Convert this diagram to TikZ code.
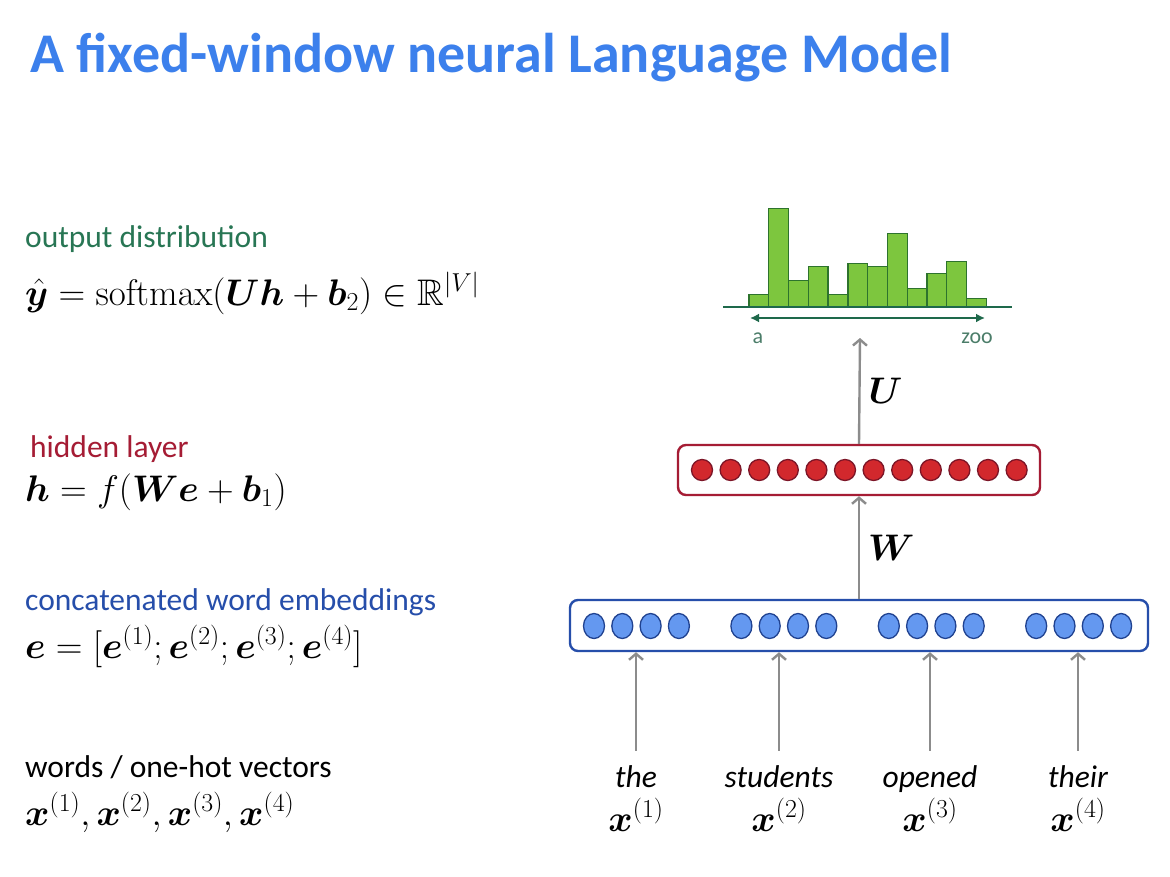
\RequirePackage{fix-cm}
\documentclass[tikz,border=0pt]{standalone}
\usepackage{amsmath,amssymb,bm}
\usepackage[no-math]{fontspec}
\setmainfont{Carlito}
\usetikzlibrary{arrows.meta}

\definecolor{titleblue}{RGB}{60,128,236}
\definecolor{outgreen}{RGB}{40,118,84}
\definecolor{hidred}{RGB}{165,28,52}
\definecolor{embblue}{RGB}{38,78,170}
\definecolor{barfill}{RGB}{125,198,62}
\definecolor{bardraw}{RGB}{45,115,45}
\definecolor{axgreen}{RGB}{30,105,75}
\definecolor{tickgreen}{RGB}{75,125,105}
\definecolor{dotred}{RGB}{210,40,45}
\definecolor{dotblue}{RGB}{100,152,240}
\definecolor{arrgray}{RGB}{140,140,140}

\newcommand{\bodysize}{\fontsize{31.5}{36}\selectfont}
\newcommand{\eqsize}{\fontsize{37}{42}\selectfont}

\tikzset{
  lbl/.style={anchor=base west, inner sep=0pt, font=\bodysize},
  eqn/.style={anchor=base west, inner sep=0pt, font=\eqsize},
  wrd/.style={anchor=base, inner sep=0pt, text height=22pt, font=\bodysize\itshape},
  layerbox/.style={draw, line width=2.4pt, rounded corners=8pt, fill=white},
  hidunit/.style={draw=hidred!75!black, fill=dotred, line width=1.3pt},
  embunit/.style={draw=embblue!85!black, fill=dotblue, line width=1.3pt},
  bar/.style={draw=bardraw, fill=barfill, line width=1.3pt},
  feed/.style={draw=arrgray, line width=2.4pt, -{Straight Barb[length=6pt,width=14pt]}},
}

\begin{document}
\begin{tikzpicture}[x=1pt,y=-1pt]
  \useasboundingbox[fill=white] (0,0) rectangle (1170,876);
  \node[anchor=base west, inner sep=0pt, text=titleblue, font=\fontsize{56}{60}\selectfont\bfseries] (title) at (30,72) {A fixed-window neural Language Model};

  % left column
  \node[lbl, text=outgreen] (outlbl) at (25,247) {output distribution};
  \node[eqn] (outeq) at (25,305) {$\hat{\bm y} = \mathrm{softmax}(\bm U \bm h + \bm b_2) \in \mathbb{R}^{|V|}$};
  \node[lbl, text=hidred] (hidlbl) at (30,457) {hidden layer};
  \node[eqn] (hideq) at (25,501) {$\bm h = f(\bm W \bm e + \bm b_1)$};
  \node[lbl, text=embblue] (emblbl) at (25,610) {concatenated word embeddings};
  \node[eqn] (embeq) at (25,658) {$\bm e = [\bm e^{(1)}; \bm e^{(2)}; \bm e^{(3)}; \bm e^{(4)}]$};
  \node[lbl] (inlbl) at (25,777) {words / one-hot vectors};
  \node[eqn] (ineq) at (25,825) {$\bm x^{(1)}, \bm x^{(2)}, \bm x^{(3)}, \bm x^{(4)}$};

  % histogram
  \foreach \h [count=\i from 0] in {12.3,97.7,25.7,40,12.3,43.3,40,73.3,18.3,33.3,45,7.7}
    \filldraw[bar] ({749+19.77*\i},306.5) rectangle ++(19.77,-\h);
  \draw[axgreen, line width=2pt] (723,306.5) -- (1012,306.5);
  \coordinate (vfirst) at (750,318);
  \coordinate (vlast) at (985,318);
  \draw[axgreen, line width=2.2pt, {Latex[length=9pt,width=9pt]}-{Latex[length=9pt,width=9pt]}] (vfirst) -- (vlast);
  \node[anchor=base, inner sep=0pt, text=tickgreen, font=\fontsize{22}{26}\selectfont] (va) at (758,343) {a};
  \node[anchor=base, inner sep=0pt, text=tickgreen, font=\fontsize{22}{26}\selectfont] (vzoo) at (977,343) {zoo};

  % hidden layer
  \node[layerbox, draw=hidred, minimum width=362pt, minimum height=50pt] (hid) at (859,470) {};
  \foreach \k in {0,...,11}
    \filldraw[hidunit] ({702+28.6*\k},470) circle [radius=10.5pt];

  % embeddings
  \node[layerbox, draw=embblue, minimum width=578pt, minimum height=51pt] (emb) at (859,625.5) {};
  \foreach \g in {0,...,3}
    \foreach \k in {0,...,3}
      \filldraw[embunit] ({594+147.4*\g+28.3*\k},626) ellipse [x radius=10.5pt, y radius=12.5pt];

  % words
  \node[wrd] (w1) at (636,787) {the};
  \node[wrd] (w2) at (779,787) {students};
  \node[wrd] (w3) at (930,787) {opened};
  \node[wrd] (w4) at (1078,787) {their};
  \foreach \n in {1,...,4}
    \node[anchor=base, inner sep=0pt, font=\eqsize] (x\n) at (w\n |- 0,831) {$\bm x^{(\n)}$};

  % connections
  \foreach \n in {1,...,4}
    \draw[feed, shorten <=14pt] (w\n.north) -- (w\n.north |- emb.south);
  \draw[feed] (emb.north) -- (hid.south) node[midway, right, inner sep=8pt, font=\eqsize] {$\bm W$};
  \coordinate (outtip) at (860,338);
  \draw[feed] (hid.north) -- (outtip) node[midway, right, inner sep=8pt, font=\eqsize] {$\bm U$};
\end{tikzpicture}
\end{document}
